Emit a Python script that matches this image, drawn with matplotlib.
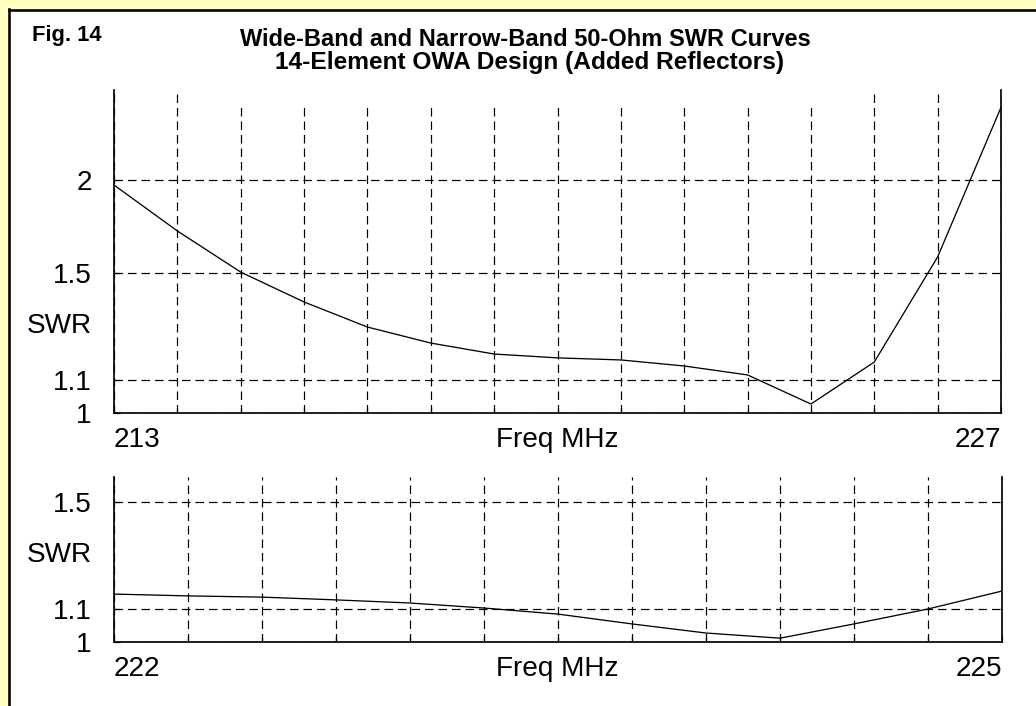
import matplotlib
matplotlib.use("Agg")
import matplotlib.pyplot as plt
from matplotlib import font_manager
from matplotlib.patches import Rectangle
from matplotlib.lines import Line2D
from matplotlib.scale import FuncScale
import numpy as np

# ---- data -------------------------------------------------------------
wide_freq = [213, 214, 215, 216, 217, 218, 219, 220, 221, 222, 223, 224, 225, 226, 227]
wide_swr = [1.966, 1.703, 1.504, 1.377, 1.280, 1.222, 1.184, 1.171, 1.164,
            1.144, 1.115, 1.026, 1.157, 1.574, 2.55]

narrow_freq = [222.0, 222.25, 222.5, 222.75, 223.0, 223.25, 223.5, 223.75,
               224.0, 224.25, 224.5, 224.75, 225.0]
narrow_swr = [1.147, 1.141, 1.137, 1.128, 1.118, 1.102, 1.083, 1.053,
              1.026, 1.011, 1.053, 1.099, 1.157]

wide_yticks = [1, 1.1, 1.5, 2]
wide_ytick_labels = ["1", "1.1", "1.5", "2"]
narrow_yticks = [1, 1.1, 1.5]
narrow_ytick_labels = ["1", "1.1", "1.5"]

title_line1 = "Wide-Band and Narrow-Band 50-Ohm SWR Curves"
title_line2 = "14-Element OWA Design (Added Reflectors)"
fig_label = "Fig. 14"
x_label = "Freq MHz"
y_label = "SWR"

# ---- fonts ------------------------------------------------------------
installed = {f.name for f in font_manager.fontManager.ttflist}
plain_font = "Liberation Sans" if "Liberation Sans" in installed else "DejaVu Sans"

W, H = 1036, 706
DPI = 100
PT = 72.0 / DPI  # points per pixel

plt.rcParams["lines.scale_dashes"] = False

fig = plt.figure(figsize=(W / DPI, H / DPI), dpi=DPI, facecolor="#FFFFC0")


def fx(px):
    return px / W


def fy(py):
    return 1 - py / H


# white panel with a black frame on the left and top
fig.patches.append(Rectangle((fx(9), 0), 1, fy(10), transform=fig.transFigure,
                             facecolor="white", edgecolor="none", zorder=-5))
fig.lines.append(Line2D([fx(9), fx(9)], [0, fy(9)], transform=fig.transFigure,
                        color="black", lw=2.6 * PT, zorder=-4))
fig.lines.append(Line2D([fx(9), 1], [fy(10), fy(10)], transform=fig.transFigure,
                        color="black", lw=2.6 * PT, zorder=-4))


# SWR axis is linear in reflection coefficient
def fwd(s):
    s = np.asarray(s, dtype=float)
    return (s - 1) / (s + 1)


def inv(r):
    r = np.asarray(r, dtype=float)
    return (1 + r) / (1 - r)


LABEL_SIZE = 28 * PT
GRID_DASH = [8.5 * PT, 5 * PT]
SWR_MID = float(inv((fwd(1.1) + fwd(1.5)) / 2))


def make_axes(left, right, top, bottom, freq, swr, xmajor, ytop, yticks, ylabels):
    ax = fig.add_axes([fx(left), fy(bottom), fx(right) - fx(left), fy(top) - fy(bottom)])
    ax.set_facecolor("none")
    ax.set_yscale(FuncScale(ax.yaxis, (fwd, inv)))
    ax.set_xlim(freq[0], freq[-1])
    ax.set_ylim(1, ytop)
    ax.plot(freq, swr, color="black", lw=1.3 * PT, zorder=3)

    ax.set_xticks(xmajor)
    xl = [""] * len(xmajor)
    xl[0] = f"{xmajor[0]:g}"
    xl[-1] = f"{xmajor[-1]:g}"
    ax.set_xticklabels(xl, fontsize=LABEL_SIZE, family=plain_font)
    labs = ax.get_xticklabels()
    labs[0].set_ha("left")
    labs[-1].set_ha("right")
    ax.set_yticks(yticks)
    ax.set_yticklabels(ylabels, fontsize=LABEL_SIZE, family=plain_font)
    ax.minorticks_off()
    ax.tick_params(axis="x", direction="in", length=4, width=1.2 * PT, pad=13.7 * PT)
    ax.tick_params(axis="y", direction="in", length=4, width=1.2 * PT, pad=22 * PT)

    ax.grid(True, color="black", lw=1.2 * PT)
    for g in ax.get_xgridlines() + ax.get_ygridlines():
        g.set_dashes(GRID_DASH)
    ax.set_axisbelow(True)

    ax.spines["top"].set_visible(False)
    for side in ("left", "right", "bottom"):
        ax.spines[side].set_linewidth(1.7 * PT)

    # axis captions
    fig.text(fx(557), fy(bottom + 13.7), x_label, ha="center", va="top",
             fontsize=LABEL_SIZE, family=plain_font)
    ax.text(-22 / (right - left), SWR_MID, y_label, transform=ax.get_yaxis_transform(),
            ha="right", va="center", fontsize=LABEL_SIZE, family=plain_font)
    return ax


ax1 = make_axes(114, 1001, 90, 413, wide_freq, wide_swr,
                list(range(213, 228)), float(inv(323 / 700.0)),
                wide_yticks, wide_ytick_labels)
ax2 = make_axes(114, 1002, 477, 642, narrow_freq, narrow_swr,
                narrow_freq, float(inv(165 / 700.0)),
                narrow_yticks, narrow_ytick_labels)

# title block, with a white backing that hides the grid tops beneath it
fig.patches.append(Rectangle((fx(198), fy(108)), fx(850) - fx(198), fy(80) - fy(108),
                             transform=fig.transFigure, facecolor="white",
                             edgecolor="none", zorder=1))

t1 = fig.text(fx(525), fy(40), title_line1, ha="center", va="center",
              fontsize=17 * PT, fontweight="bold", family=plain_font)
t2 = fig.text(fx(530), fy(63), title_line2, ha="center", va="center",
              fontsize=17 * PT, fontweight="bold", family=plain_font)
t3 = fig.text(fx(32), fy(36), fig_label, ha="left", va="center",
              fontsize=17 * PT, fontweight="bold", family=plain_font)

# size the title lines to their set widths
renderer = fig.canvas.get_renderer()
for t, width in ((t1, 569), (t2, 510), (t3, 70)):
    w = t.get_window_extent(renderer).width
    t.set_fontsize(t.get_fontsize() * width / w)

fig.savefig("out.png", dpi=DPI, facecolor=fig.get_facecolor())
